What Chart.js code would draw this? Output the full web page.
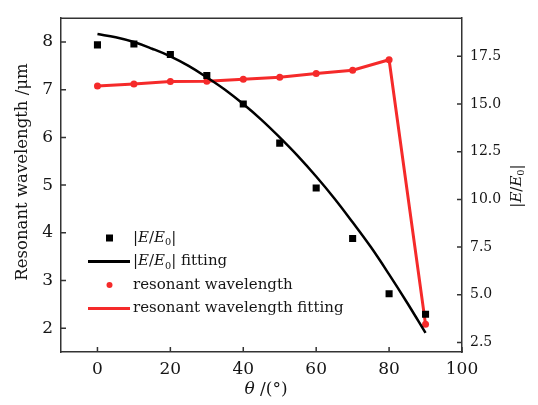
<!DOCTYPE html>
<html>
<head>
<meta charset="utf-8">
<script src="https://cdn.jsdelivr.net/npm/chart.js@4"></script>
<style>
html, body { margin: 0; padding: 0; background: #fff; }
</style>
</head>
<body>
<canvas id="chart" width="538" height="405"></canvas>
<script>
// data
const angles = [0, 10, 20, 30, 40, 50, 60, 70, 80, 90];
const fieldEnh = [18.1, 18.15, 17.6, 16.5, 15.0, 12.95, 10.6, 7.95, 5.05, 3.98];
const fitAngles = [0, 5, 10, 15, 20, 25, 30, 35, 40, 45, 50, 55, 60, 65, 70, 75, 80, 85, 90];
const fieldFit = [18.67, 18.5, 18.25, 17.9, 17.5, 17.0, 16.4, 15.75, 15.0, 14.17, 13.25, 12.27, 11.2, 10.05, 8.8, 7.5, 6.07, 4.57, 3.0];
const wavelength = [7.08, 7.12, 7.17, 7.18, 7.22, 7.26, 7.34, 7.41, 7.63, 2.08];
const xTicks = [0, 20, 40, 60, 80, 100];
const leftTicks = [2, 3, 4, 5, 6, 7, 8];
const rightTicks = [2.5, 5, 7.5, 10, 12.5, 15, 17.5];

const FONT = '"DejaVu Serif", "Liberation Serif", serif';
const AXIS = '#333';
const INK = '#151515';
const RED = '#f52a2a';

const toXY = (xs, ys) => xs.map((x, i) => ({ x: x, y: ys[i] }));

// text with italic / subscript pieces
function richText(ctx, parts, x, y, size, align) {
  let total = 0;
  const widths = parts.map(p => {
    ctx.font = (p.i ? 'italic ' : '') + (p.sub ? size * 0.65 : size) + 'px ' + FONT;
    const w = ctx.measureText(p.t).width;
    total += w;
    return w;
  });
  let cx = align === 'center' ? x - total / 2 : x;
  parts.forEach((p, k) => {
    ctx.font = (p.i ? 'italic ' : '') + (p.sub ? size * 0.65 : size) + 'px ' + FONT;
    ctx.fillText(p.t, cx, p.sub ? y + size * 0.3 : y);
    cx += widths[k];
  });
}

const eParts = [{ t: '|' }, { t: 'E', i: true }, { t: '/' }, { t: 'E', i: true }, { t: '0', sub: true }, { t: '|' }];
const legendRows = [
  { parts: eParts, kind: 'square', color: '#000' },
  { parts: eParts.concat([{ t: ' fitting' }]), kind: 'line', color: '#000' },
  { parts: [{ t: 'resonant wavelength' }], kind: 'dot', color: RED },
  { parts: [{ t: 'resonant wavelength fitting' }], kind: 'line', color: RED }
];

const extras = {
  id: 'extras',
  afterDraw(chart) {
    const ctx = chart.ctx;
    const a = chart.chartArea;
    const sx = chart.scales.x, sy = chart.scales.y, sy2 = chart.scales.y2;
    ctx.save();
    // frame top + inward ticks
    ctx.strokeStyle = AXIS;
    ctx.lineWidth = 1.5;
    ctx.beginPath();
    ctx.moveTo(a.left, a.top);
    ctx.lineTo(a.right, a.top);
    xTicks.forEach(v => {
      const p = sx.getPixelForValue(v);
      ctx.moveTo(p, a.bottom);
      ctx.lineTo(p, a.bottom - 5);
    });
    leftTicks.forEach(v => {
      const p = sy.getPixelForValue(v);
      ctx.moveTo(a.left, p);
      ctx.lineTo(a.left + 5, p);
    });
    rightTicks.forEach(v => {
      const p = sy2.getPixelForValue(v);
      ctx.moveTo(a.right, p);
      ctx.lineTo(a.right - 5, p);
    });
    ctx.stroke();

    // axis titles
    ctx.fillStyle = INK;
    ctx.textBaseline = 'middle';
    ctx.textAlign = 'left';
    richText(ctx, [{ t: 'θ', i: true }, { t: ' /(°)' }], 266, 390, 17, 'center');

    ctx.save();
    ctx.translate(23, 172);
    ctx.rotate(-Math.PI / 2);
    richText(ctx, [{ t: 'Resonant wavelength /μm' }], 0, 0, 16.5, 'center');
    ctx.restore();

    ctx.save();
    ctx.translate(517, 186);
    ctx.rotate(-Math.PI / 2);
    richText(ctx, eParts, 0, 0, 15, 'center');
    ctx.restore();

    // legend, lower left inside plot
    legendRows.forEach((r, k) => {
      const y = 238 + k * 23.5;
      ctx.fillStyle = r.color;
      ctx.strokeStyle = r.color;
      if (r.kind === 'square') {
        ctx.fillRect(106, y - 3.5, 7, 7);
      } else if (r.kind === 'dot') {
        ctx.beginPath();
        ctx.arc(109.5, y, 3, 0, Math.PI * 2);
        ctx.fill();
      } else {
        ctx.lineWidth = 3;
        ctx.beginPath();
        ctx.moveTo(88, y);
        ctx.lineTo(130, y);
        ctx.stroke();
      }
      ctx.fillStyle = INK;
      richText(ctx, r.parts, 133, y, 15, 'left');
    });
    ctx.restore();
  }
};

new Chart(document.getElementById('chart'), {
  type: 'scatter',
  data: {
    datasets: [
      {
        label: '|E/E0|',
        data: toXY(angles, fieldEnh),
        yAxisID: 'y2',
        pointStyle: 'rect',
        pointRadius: 5,
        backgroundColor: '#000',
        borderColor: '#000',
        borderWidth: 0,
        showLine: false,
        order: 0
      },
      {
        label: '|E/E0| fitting',
        data: toXY(fitAngles, fieldFit),
        yAxisID: 'y2',
        showLine: true,
        borderColor: '#000',
        borderWidth: 2.5,
        pointRadius: 0,
        tension: 0.4,
        order: 1
      },
      {
        label: 'resonant wavelength',
        data: toXY(angles, wavelength),
        yAxisID: 'y',
        pointRadius: 3.5,
        backgroundColor: RED,
        borderWidth: 0,
        showLine: false,
        order: 2
      },
      {
        label: 'resonant wavelength fitting',
        data: toXY(angles, wavelength),
        yAxisID: 'y',
        showLine: true,
        borderColor: RED,
        borderWidth: 3,
        pointRadius: 0,
        tension: 0,
        order: 3
      }
    ]
  },
  options: {
    responsive: false,
    animation: false,
    devicePixelRatio: 1,
    layout: { padding: { top: 8, left: 0, right: 0, bottom: 0 } },
    plugins: { legend: { display: false }, tooltip: { enabled: false } },
    scales: {
      x: {
        type: 'linear',
        min: -10,
        max: 100,
        afterBuildTicks: s => { s.ticks = xTicks.map(v => ({ value: v })); },
        afterFit: s => { s.height = 53; },
        grid: { display: false, drawTicks: false },
        border: { display: true, color: AXIS, width: 1.5 },
        ticks: { color: INK, padding: 7, font: { family: FONT, size: 17 } }
      },
      y: {
        position: 'left',
        min: 1.5,
        max: 8.5,
        afterBuildTicks: s => { s.ticks = leftTicks.map(v => ({ value: v })); },
        afterFit: s => { s.width = 61; },
        grid: { display: false, drawTicks: false },
        border: { display: true, color: AXIS, width: 1.5 },
        ticks: { color: INK, padding: 8, font: { family: FONT, size: 17 } }
      },
      y2: {
        position: 'right',
        min: 2,
        max: 19.5,
        afterBuildTicks: s => { s.ticks = rightTicks.map(v => ({ value: v })); },
        afterFit: s => { s.width = 76; },
        grid: { display: false, drawTicks: false },
        border: { display: true, color: AXIS, width: 1.5 },
        ticks: {
          color: INK,
          padding: 8,
          font: { family: FONT, size: 14 },
          callback: v => v.toFixed(1)
        }
      }
    }
  },
  plugins: [extras]
});
</script>
</body>
</html>
